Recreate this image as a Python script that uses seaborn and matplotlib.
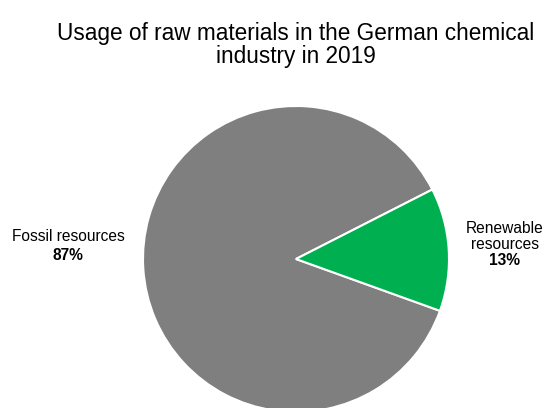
import matplotlib
matplotlib.use("Agg")
import matplotlib.pyplot as plt
import seaborn as sns

categories = ["Fossil resources", "Renewable resources"]
label_lines = ["Fossil resources", "Renewable\nresources"]
values = [87, 13]
colors = ["#7F7F7F", "#00B050"]

sns.set_style("white")
plt.rcParams['font.family'] = ['Liberation Sans', 'DejaVu Sans']
plt.rcParams['text.color'] = 'black'

fig = plt.figure(figsize=(5.44, 4.08), dpi=100)
W, H = 544, 408
cx, cy, R = 296, 259, 153
ax = fig.add_axes([(cx - R) / W, (H - cy - R) / H, 2 * R / W, 2 * R / H])
ax.pie(values, colors=colors, startangle=27, counterclock=True,
       wedgeprops=dict(edgecolor="white", linewidth=1.5))
ax.set_xlim(-1, 1)
ax.set_ylim(-1, 1)
ax.set_aspect("equal")
ax.axis("off")

# labels
fs = 11.2
ax.text(-1.49, 0.144, label_lines[0], ha="center", va="center", fontsize=fs, color="black")
ax.text(-1.49, 0.026, f"{values[0]}%", ha="center", va="center", fontsize=fs,
        fontweight="bold", color="black")
ax.text(1.366, 0.147, label_lines[1], ha="center", va="center", fontsize=fs,
        linespacing=1.07, color="black")
ax.text(1.366, -0.013, f"{values[1]}%", ha="center", va="center", fontsize=fs,
        fontweight="bold", color="black")

fig.text(296 / W, 1 - 45 / H, "Usage of raw materials in the German chemical\nindustry in 2019",
         ha="center", va="center", fontsize=16.3, linespacing=1.05, color="black")

fig.savefig("out.png", dpi=100)
